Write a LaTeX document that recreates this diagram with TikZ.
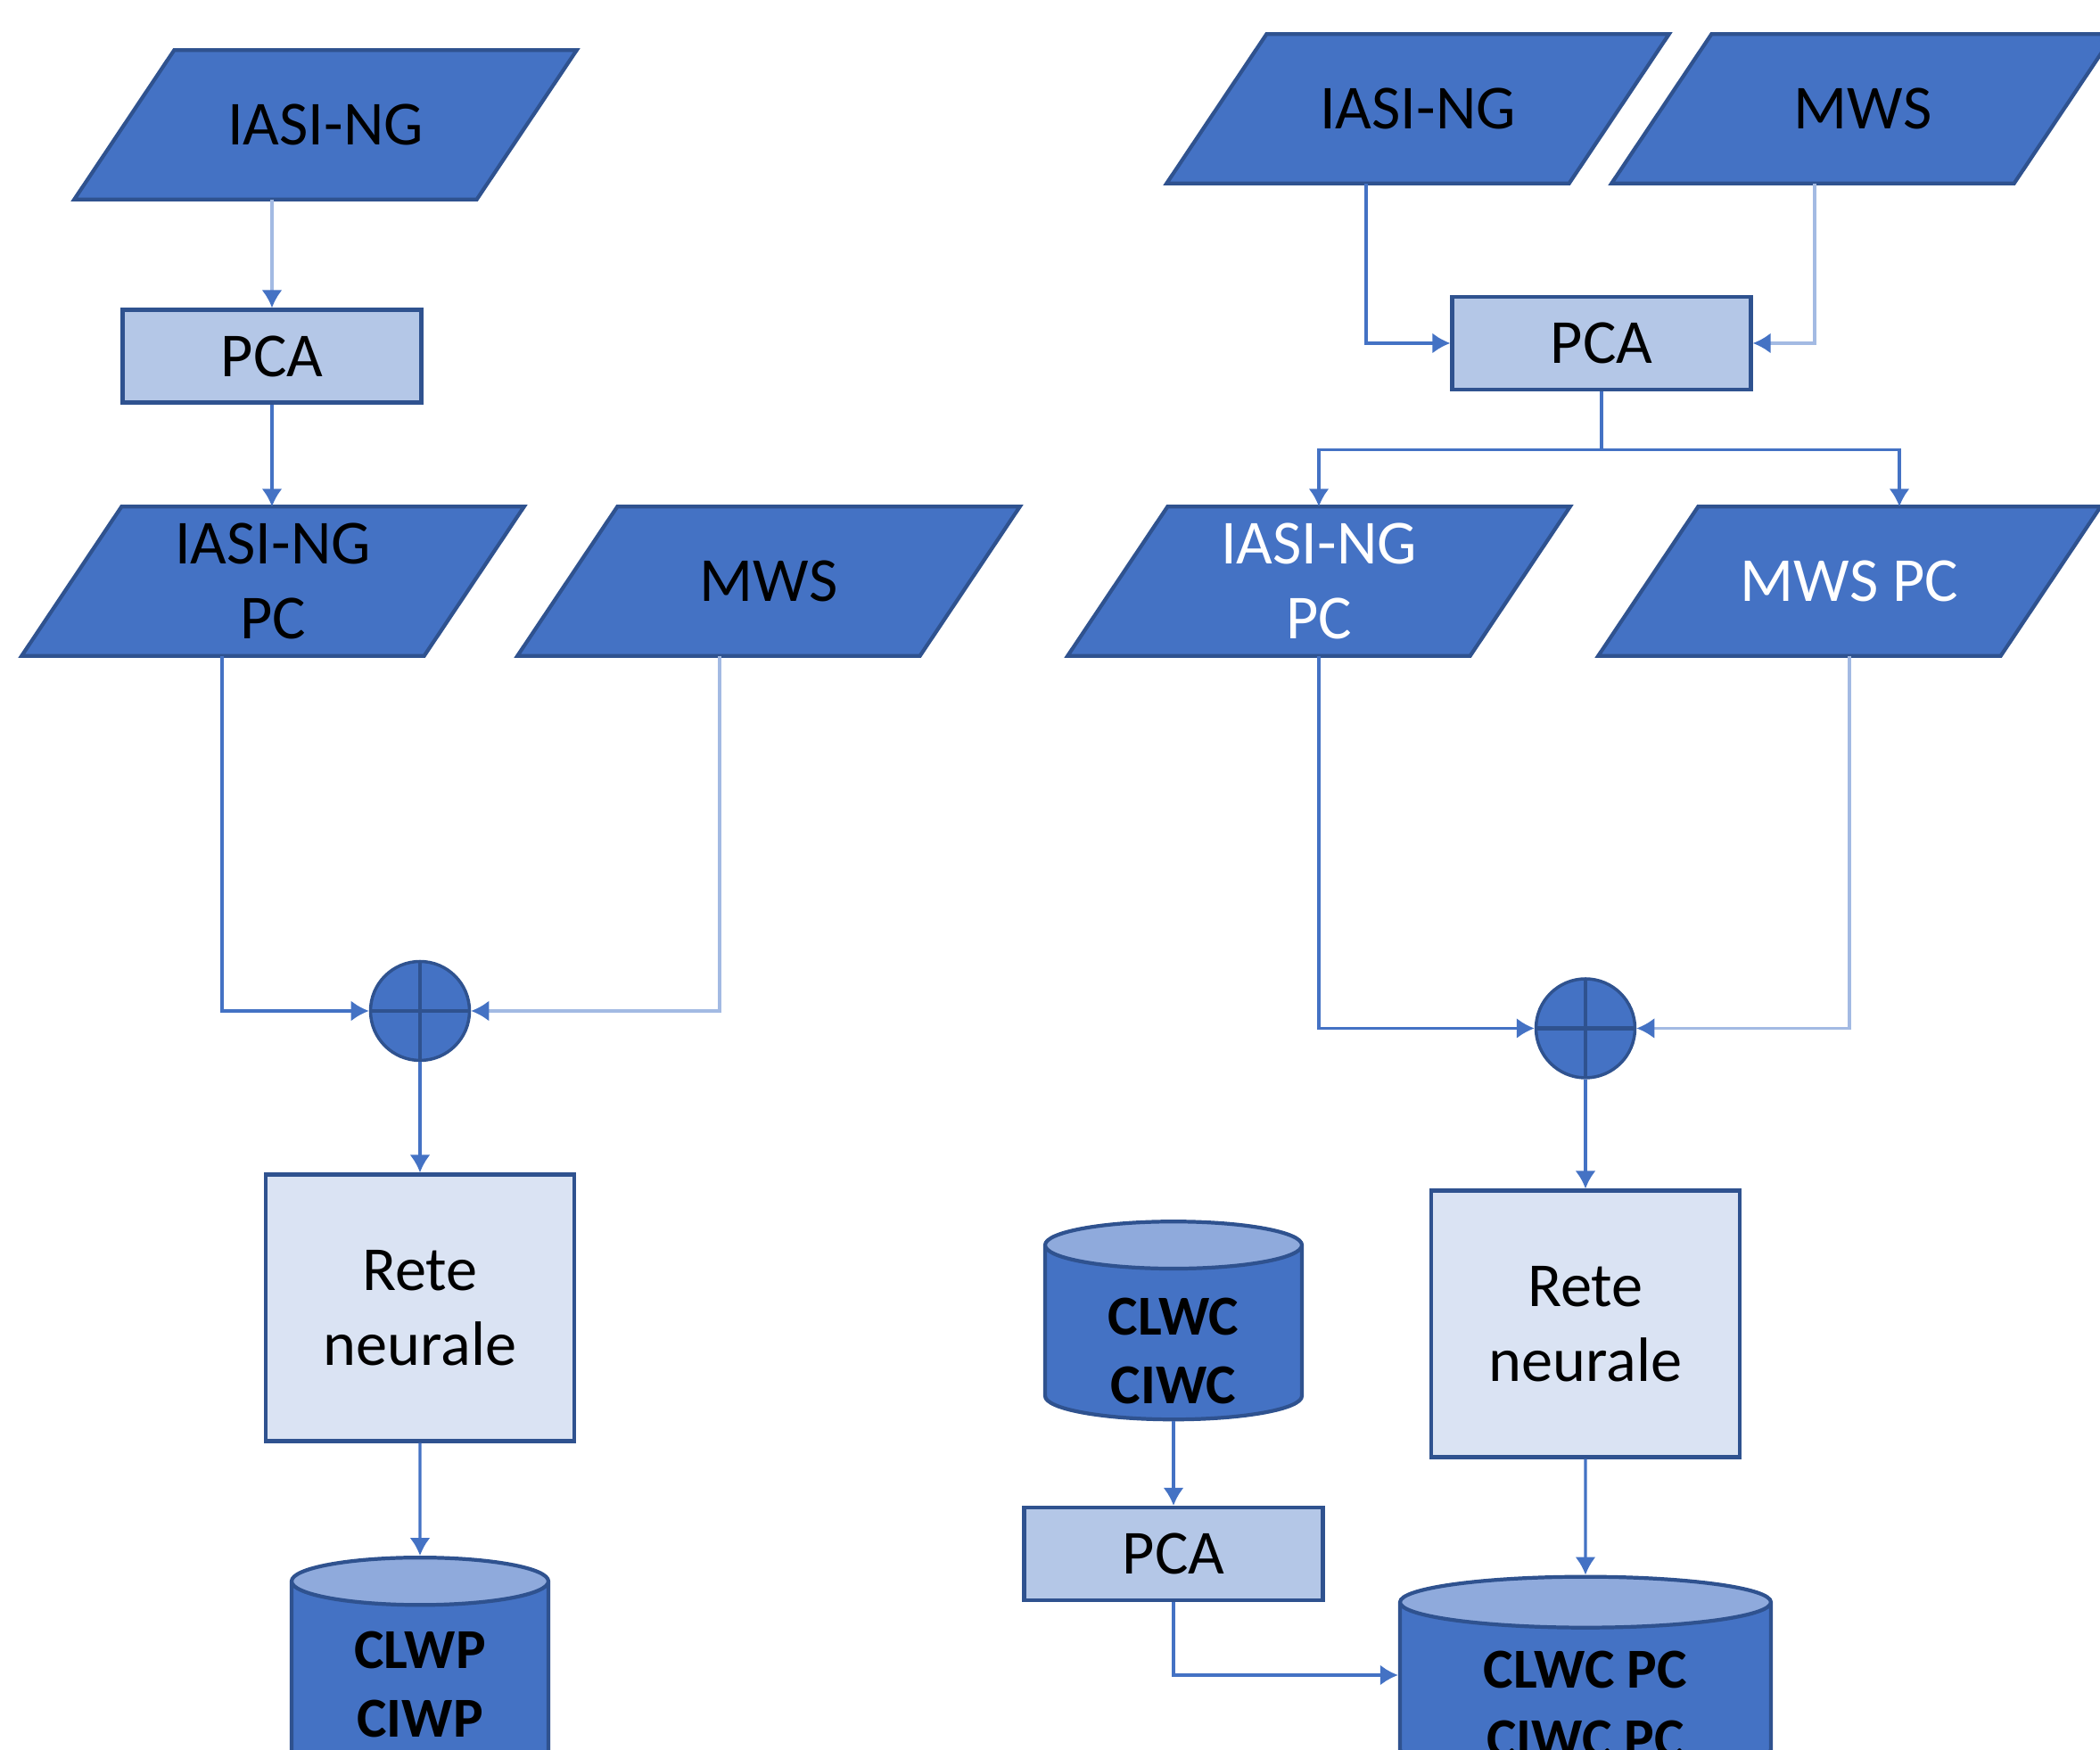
\documentclass[tikz,border=0pt]{standalone}
\usepackage{fontspec}
\setmainfont{Carlito}
\usetikzlibrary{shapes.geometric,arrows.meta,positioning,backgrounds}

\definecolor{blu}{HTML}{4472C4}
\definecolor{bdr}{HTML}{2F528F}
\definecolor{pcafill}{HTML}{B4C7E7}
\definecolor{netfill}{HTML}{DAE3F3}
\definecolor{cyltop}{HTML}{8FAADC}
\definecolor{lnkl}{HTML}{A3BAE3}

\tikzset{
  data/.style={rectangle, minimum width=4.5cm, minimum height=1.66cm, inner sep=0pt,
    align=center, font=\fontsize{20}{24}\selectfont},
  slanted/.style={draw=bdr, fill=blu, line width=1.2pt},
  pca/.style={rectangle, draw=bdr, fill=pcafill, line width=1.2pt,
    minimum width=3.35cm, minimum height=1.04cm, font=\fontsize{20}{24}\selectfont},
  net/.style={rectangle, draw=bdr, fill=netfill, line width=1.2pt,
    minimum width=3.46cm, minimum height=2.99cm, align=center,
    font=\fontsize{20}{24}\selectfont},
  db/.style={cylinder, shape border rotate=90, aspect=0.36, draw=bdr, line width=1.2pt,
    cylinder uses custom fill, cylinder body fill=blu, cylinder end fill=cyltop,
    inner sep=0pt, font=\bfseries\fontsize{18}{22}\selectfont},
  dbtext/.style={align=center, yshift=-0.2cm, font=\bfseries\fontsize{18}{22}\selectfont},
  sum/.style={circle, draw=bdr, fill=blu, line width=1pt, minimum size=1.11cm, inner sep=0pt,
    path picture={\draw[bdr, line width=1.4pt]
      (path picture bounding box.north) -- (path picture bounding box.south)
      (path picture bounding box.west) -- (path picture bounding box.east);}},
  conn/.style={draw=blu, line width=0.9pt, -{Latex[length=2mm,width=2.3mm,color=blu]}},
  connl/.style={conn, draw=lnkl}
}

\begin{document}
\begin{tikzpicture}
  \useasboundingbox (0,0) rectangle (23.55,19.63);
  % left chain
  \node [data] (iasi1) at (3.65,18.23) {IASI-NG};
  \node [pca] (pca1) at (3.05,15.635) {PCA};
  \node [data] (iasipc1) at (3.06,13.11) {IASI-NG\\PC};
  \node [data] (mws1) at (8.62,13.11) {MWS};
  \node [sum] (sum1) at (4.71,8.29) {};
  \node [net] (net1) at (4.71,4.96) {Rete\\neurale};
  \node [db, minimum width=2.88cm, minimum height=2.6cm,
    label={[dbtext, yshift=0.22cm]center:{CLWP\\CIWP}}] (out1) at (4.71,0.715) {\hphantom{CLWP}};
  % right chain
  \node [data] (iasi2) at (15.90,18.41) {IASI-NG};
  \node [data] (mws2) at (20.89,18.41) {MWS};
  \node [pca] (pca2) at (17.96,15.78) {PCA};
  \node [data, text=white] (iasipc2) at (14.79,13.11) {IASI-NG\\PC};
  \node [data, text=white] (mwspc2) at (20.74,13.11) {MWS PC};
  \node [sum] (sum2) at (17.78,8.095) {};
  \node [net] (net2) at (17.78,4.78) {Rete\\neurale};
  \node [db, minimum width=2.88cm, minimum height=2.22cm,
    label={[dbtext]center:{CLWC\\CIWC}}] (cw) at (13.16,4.675) {\hphantom{CLWC}};
  \node [pca] (pca3) at (13.16,2.20) {PCA};
  \node [db, aspect=0.25, minimum width=4.16cm, minimum height=2.22cm,
    label={[dbtext, yshift=0.03cm]center:{CLWC PC\\CIWC PC}}] (out2) at (17.78,0.68) {\hphantom{CLWC PC}};
  % parallelogram bodies
  \begin{scope}[on background layer]
    \foreach \n in {iasi1,iasipc1,mws1,iasi2,mws2,iasipc2,mwspc2}
      \draw [slanted] ([xshift=-0.56cm]\n.south west) -- ([xshift=-0.56cm]\n.south east)
        -- ([xshift=0.56cm]\n.north east) -- ([xshift=0.56cm]\n.north west) -- cycle;
  \end{scope}
  % left edges
  \draw [connl] (iasi1.south -| pca1) -- (pca1);
  \draw [conn] (pca1) -- (pca1 |- iasipc1.north);
  \draw [conn] ([xshift=-0.57cm]iasipc1.south) |- (sum1);
  \draw [connl] ([xshift=-0.55cm]mws1.south) |- (sum1);
  \draw [conn] (sum1) -- (net1);
  \draw [conn] (net1) -- (out1);
  % right edges
  \draw [conn] ([xshift=-0.58cm]iasi2.south) |- (pca2);
  \draw [connl] ([xshift=-0.54cm]mws2.south) |- (pca2);
  \draw [conn] (pca2.south) -- ++(0,-0.65) -| (iasipc2.north);
  \draw [conn] (pca2.south) -- ++(0,-0.65) -| ([xshift=0.56cm]mwspc2.north);
  \draw [conn] (iasipc2.south) |- (sum2);
  \draw [connl] (mwspc2.south) |- (sum2);
  \draw [conn] (sum2) -- (net2);
  \draw [conn] (net2) -- (out2);
  \draw [conn] (cw) -- (pca3);
  \draw [conn] (pca3.south) |- ([yshift=0.16cm]out2.west);
\end{tikzpicture}
\end{document}
